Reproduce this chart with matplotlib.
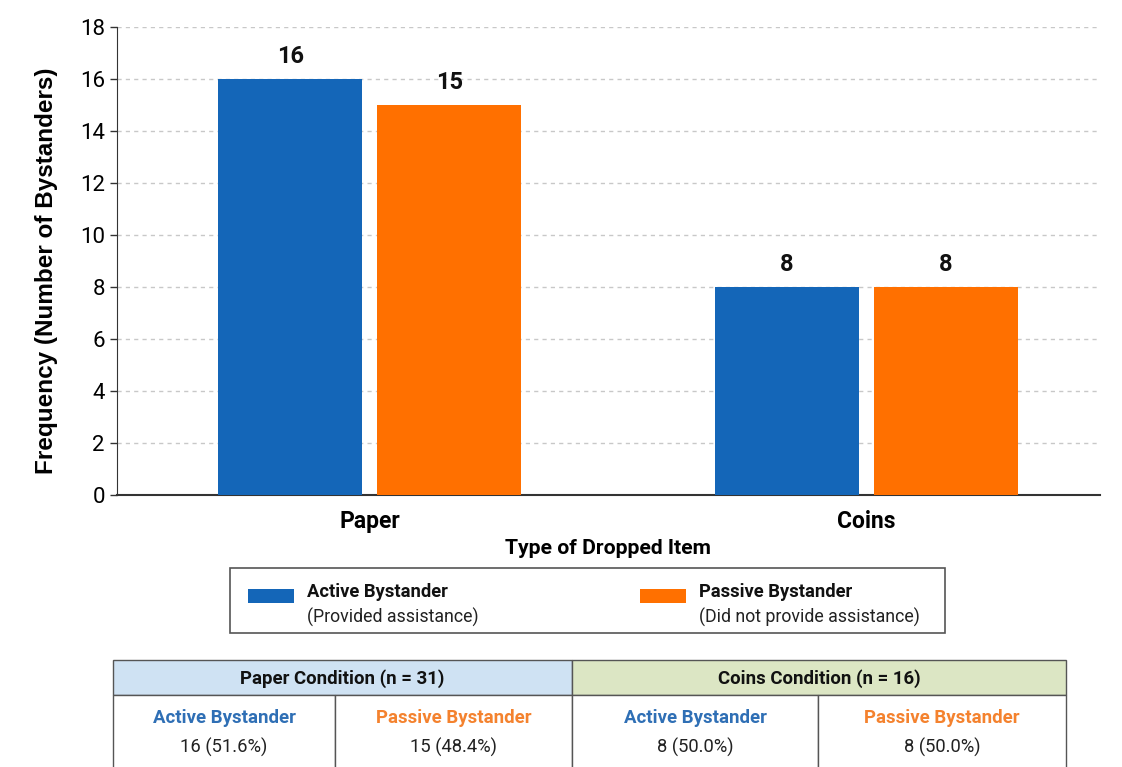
import matplotlib
matplotlib.use('Agg')
import matplotlib.pyplot as plt
from matplotlib.patches import Rectangle
import numpy as np

# Bystander counts per dropped item
items = ['Paper', 'Coins']
active = [16, 8]
passive = [15, 8]
totals = [a + p for a, p in zip(active, passive)]

series_names = ['Active Bystander', 'Passive Bystander']
series_notes = ['(Provided assistance)', '(Did not provide assistance)']

BLUE = '#1466b8'
ORANGE = '#ff7000'
TEXT_BLUE = '#2f6fb5'
TEXT_ORANGE = '#f4822e'

plt.rcParams['font.family'] = ['Roboto', 'DejaVu Sans']

fig = plt.figure(figsize=(11.22, 7.67), dpi=100)
ax = fig.add_axes([0.104, 0.3546, 0.876, 0.6102])

x = np.arange(len(items))
w = 0.29
off = 0.16
b1 = ax.bar(x - off, active, w, color=BLUE, zorder=3)
b2 = ax.bar(x + off, passive, w, color=ORANGE, zorder=3)
for bars in (b1, b2):
    for r in bars:
        ax.text(r.get_x() + r.get_width() / 2, r.get_height() + 0.42,
                '%d' % r.get_height(), ha='center', va='bottom',
                fontsize=17, fontweight='bold', color='#111111')

ax.set_ylim(0, 18)
ax.set_xlim(-0.51, 1.47)
ax.set_yticks(range(0, 19, 2))
ax.set_xticks(x)
ax.set_xticklabels(items, fontsize=16.5, fontweight='bold')
ax.tick_params(axis='y', labelsize=16, length=5, width=1, color='#333333')
ax.tick_params(axis='x', length=0, pad=11)
ax.yaxis.grid(True, linestyle=(0, (3, 3)), color='#c8c8c8', linewidth=1, zorder=0)
for s in ('top', 'right'):
    ax.spines[s].set_visible(False)
ax.spines['left'].set_color('#333333')
ax.spines['bottom'].set_color('#333333')
ax.spines['bottom'].set_linewidth(1.5)
ax.set_xlabel('Type of Dropped Item', fontsize=15.2, fontweight='bold', labelpad=4)
ax.set_ylabel('Frequency (Number of Bystanders)', fontsize=17.5, fontweight='bold',
              family=['Liberation Sans', 'DejaVu Sans'])
ax.yaxis.set_label_coords(-0.06, 0.48)

# Overlay in pixel coordinates for the legend box and summary table
ov = fig.add_axes([0, 0, 1, 1])
ov.set_xlim(0, 1122)
ov.set_ylim(767, 0)
ov.axis('off')

# legend
ov.add_patch(Rectangle((230, 568), 715, 65, facecolor='white', edgecolor='#555555', lw=1.2))
for i, (name, note, col, px) in enumerate(zip(series_names, series_notes, [BLUE, ORANGE], [248, 640])):
    ov.add_patch(Rectangle((px, 589), 46, 14, facecolor=col, edgecolor='none'))
    ov.text(px + 59, 592, name, fontsize=13.2, fontweight='bold', va='center', ha='left', color='#111111')
    ov.text(px + 59, 617, note, fontsize=12.8, va='center', ha='left', color='#222222')

# summary table
col_edges = [113, 335, 572, 818, 1066]
ty0, ty1, ty2 = 660, 695, 768
head_cols = ['#cfe2f3', '#dce6c4']
for k, item in enumerate(items):
    left, right = col_edges[2 * k], col_edges[2 * k + 2]
    ov.add_patch(Rectangle((left, ty0), right - left, ty1 - ty0, facecolor=head_cols[k],
                           edgecolor='#555555', lw=1))
    ov.text((left + right) / 2, (ty0 + ty1) / 2 + 1,
            '%s Condition (n = %d)' % (item, totals[k]),
            fontsize=13.4, fontweight='bold', ha='center', va='center', color='#111111')
    vals = [active[k], passive[k]]
    for j in range(2):
        cl, cr = col_edges[2 * k + j], col_edges[2 * k + j + 1]
        ov.add_patch(Rectangle((cl, ty1), cr - cl, ty2 - ty1, facecolor='white',
                               edgecolor='#555555', lw=1))
        ov.text((cl + cr) / 2, 718, series_names[j], fontsize=13.4, fontweight='bold',
                ha='center', va='center', color=[TEXT_BLUE, TEXT_ORANGE][j])
        ov.text((cl + cr) / 2, 747, '%d (%.1f%%)' % (vals[j], 100.0 * vals[j] / totals[k]),
                fontsize=13.2, ha='center', va='center', color='#222222')

fig.savefig('out.png', dpi=100)
